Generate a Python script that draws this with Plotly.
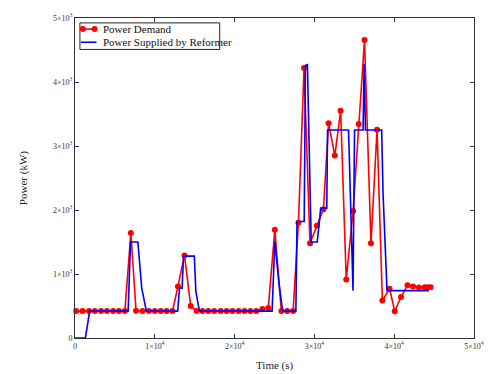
import plotly.graph_objects as go

# Power demand (red, with markers)
demand_t = [150, 940, 1757, 2492, 3268, 4003, 4779, 5515, 6250, 7000, 7650, 8456, 9273, 10008,
            10743, 11478, 12213, 12900, 13720, 14500, 15236, 15971, 16707, 17442, 18259, 18995,
            19730, 20506, 21241, 21976, 22712, 23488, 24223, 25040, 25858, 26593, 27328, 28000,
            28700, 29450, 30300, 31130, 31780, 32560, 33290, 33990, 34850, 35550, 36280, 37090,
            37850, 38520, 39420, 40070, 40850, 41670, 42360, 43100, 43830, 44240, 44570]
demand_p = [420, 420, 420, 420, 420, 420, 420, 420, 420, 1640, 425, 420, 420, 420,
            420, 420, 420, 805, 1290, 500, 420, 420, 420, 420, 420, 420,
            420, 420, 420, 420, 420, 455, 470, 1690, 420, 420, 420, 1800,
            4220, 1480, 1755, 2010, 3355, 2850, 3550, 915, 1985, 3345, 4655, 1480,
            3255, 585, 770, 418, 640, 825, 806, 788, 792, 792, 792]

# Power supplied by reformer (blue)
supply_t = [0, 1300, 1840, 6660, 6960, 7880, 8370, 8950, 12870, 13100, 13420, 13600, 14950,
            15150, 15600, 24700, 25040, 25530, 26020, 27680, 27820, 28720, 28880, 29125, 29600,
            30350, 30650, 30780, 31550, 31650, 34280, 34840, 35030, 36100, 36230, 36400, 38430,
            38600, 39100, 44350]
supply_p = [0, 0, 420, 420, 1500, 1500, 770, 420, 420, 780, 780, 1280, 1280,
            720, 420, 420, 1510, 890, 420, 420, 1820, 1820, 4260, 4270, 1500,
            1500, 1850, 2030, 2030, 3250, 3250, 740, 3250, 3250, 4280, 3250, 3250,
            2270, 740, 740]

series_names = ["Power Demand", "Power Supplied by Reformer"]
series_colors = ["#ff0000", "#0000ff"]

x_tickvals = [0, 10000, 20000, 30000, 40000, 50000]
x_ticktext = ["0", "1×10<sup>4</sup>", "2×10<sup>4</sup>", "3×10<sup>4</sup>", "4×10<sup>4</sup>", "5×10<sup>4</sup>"]
y_tickvals = [0, 1000, 2000, 3000, 4000, 5000]
y_ticktext = ["0", "1×10<sup>3</sup>", "2×10<sup>3</sup>", "3×10<sup>3</sup>", "4×10<sup>3</sup>", "5×10<sup>3</sup>"]

font_family = "Liberation Serif, Times New Roman, serif"

fig = go.Figure()
fig.add_trace(go.Scatter(
    x=demand_t, y=demand_p, mode="lines+markers", name=series_names[0],
    line=dict(color=series_colors[0], width=1.6),
    marker=dict(color=series_colors[0], size=6, symbol="circle"),
    cliponaxis=False, showlegend=False,
))
fig.add_trace(go.Scatter(
    x=supply_t, y=supply_p, mode="lines", name=series_names[1],
    line=dict(color=series_colors[1], width=1.6), showlegend=False,
))

axis_common = dict(
    showgrid=False, zeroline=False, showline=True, linecolor="#333333", linewidth=1,
    mirror="ticks", ticks="inside", ticklen=4, tickcolor="#333333",
    tickfont=dict(family=font_family, size=8, color="#333333"),
)

# manual MATLAB-style legend (paper coordinates)
shapes = [dict(type="rect", xref="paper", yref="paper", x0=0.0123, x1=0.3627, y0=0.9018, y1=0.9847,
               line=dict(color="#222222", width=1), fillcolor="white", layer="above")]
annotations = []
legend_rows_y = [0.9653, 0.9242]
for i, (name, col) in enumerate(zip(series_names, series_colors)):
    yy = legend_rows_y[i]
    shapes.append(dict(type="line", xref="paper", yref="paper", x0=0.0147, x1=0.0539, y0=yy, y1=yy,
                       line=dict(color=col, width=1.6), layer="above"))
    if i == 0:
        for xm in (0.0196, 0.049):
            shapes.append(dict(type="circle", xref="paper", yref="paper",
                               xsizemode="pixel", ysizemode="pixel", xanchor=xm, yanchor=yy,
                               x0=-3, x1=3, y0=-3, y1=3,
                               fillcolor=col, line=dict(color=col, width=0), layer="above"))
    annotations.append(dict(text=name, x=0.066, y=yy, xref="paper", yref="paper",
                            xanchor="left", yanchor="middle", showarrow=False,
                            font=dict(family=font_family, size=11, color="#111111")))

annotations += [
    dict(text="Time (s)", x=0.5, y=-0.086, xref="paper", yref="paper",
         xanchor="center", yanchor="middle", showarrow=False,
         font=dict(family=font_family, size=11, color="#222222")),
    dict(text="Power (kW)", x=-0.13, y=0.5, xref="paper", yref="paper",
         xanchor="center", yanchor="middle", showarrow=False, textangle=-90,
         font=dict(family=font_family, size=11, color="#222222")),
]

fig.update_layout(
    width=496, height=374,
    margin=dict(l=75, r=13, t=12, b=36),
    paper_bgcolor="white", plot_bgcolor="white",
    font=dict(family=font_family, color="#222222"),
    showlegend=False,
    xaxis=dict(range=[0, 50000], tickvals=x_tickvals, ticktext=x_ticktext, **axis_common),
    yaxis=dict(range=[0, 5000], tickvals=y_tickvals, ticktext=y_ticktext, **axis_common),
    shapes=shapes,
    annotations=annotations,
)

fig.write_html("out.html")
